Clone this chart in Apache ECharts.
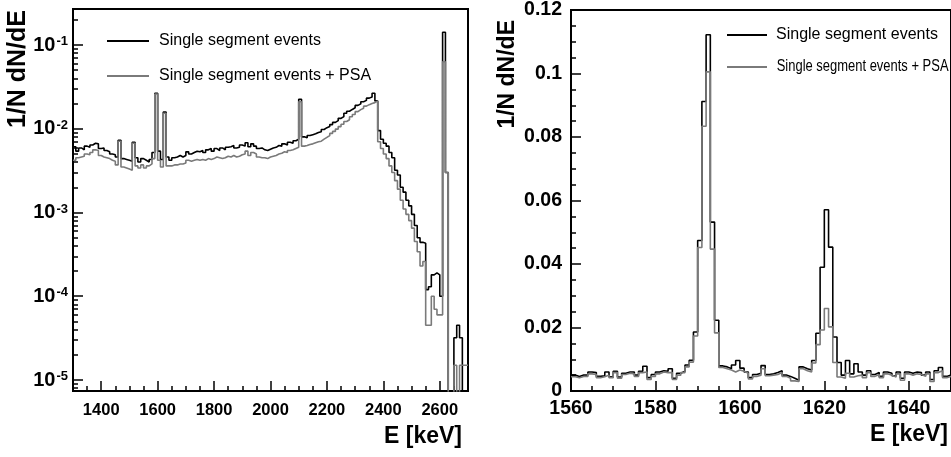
<!DOCTYPE html>
<html><head><meta charset="utf-8">
<script src="https://cdn.jsdelivr.net/npm/echarts@6/dist/echarts.min.js"></script>
<style>html,body{margin:0;padding:0;background:#fff}#c{width:951px;height:457px}</style>
</head><body><div id="c"></div>
<script>
// ---------------- DATA ----------------
const seriesNames = ['Single segment events', 'Single segment events + PSA'];

// Left panel: 10 keV bins from 1300 keV, values of 1/N dN/dE in units of 1e-3
const leftBinStart = 1300, leftBinWidth = 10, leftUnit = 1e-3;
const leftSingle = [
  6.1,5.4,5.9,5.6,6.2,6.0,6.4,6.7,6.6,5.8,
  5.9,5.5,5.3,5.0,4.9,4.6,7.3,4.4,4.3,4.2,
  4.1,6.9,4.5,4.0,4.4,4.2,4.0,4.3,5.2,26.5,
  5.4,4.3,15.8,4.6,4.2,4.5,4.6,4.8,4.6,4.8,
  5.3,5.0,5.2,5.4,5.3,5.5,5.2,5.6,5.8,5.4,
  5.8,5.5,5.9,5.6,6.0,6.1,6.3,5.9,6.0,6.4,
  6.2,6.8,6.1,6.6,6.2,5.8,5.9,5.6,5.5,5.7,
  5.9,6.0,6.3,6.2,6.6,6.4,6.9,6.7,7.2,7.5,
  22.5,8.0,7.8,8.3,8.5,8.7,9.0,9.2,9.8,10.3,
  10.6,11.2,11.9,12.5,13.3,14.0,15.3,16.2,17.0,17.8,
  19.0,19.8,21.0,21.8,23.2,24.0,26.5,21.5,9.5,7.5,
  6.7,6.2,5.2,4.5,3.2,2.8,2.0,1.75,1.4,1.2,
  0.95,0.70,0.50,0.44,0.43,0.12,0.13,0.18,0.19,0.18,
  0.10,142,3.0,0,0,0.032,0.045,0.032,0,0
];
const leftSinglePSA = [
  4.2,4.5,4.6,4.7,5.0,4.9,5.2,5.6,5.5,4.8,
  4.6,4.5,4.4,4.2,4.1,3.7,7.1,3.5,3.4,3.3,
  3.2,6.7,3.6,3.4,3.7,3.4,3.6,3.8,4.4,26.0,
  4.2,3.5,15.3,3.6,3.6,3.7,3.7,3.8,3.8,3.9,
  4.2,4.1,4.2,4.3,4.2,4.3,4.2,4.4,4.3,4.4,
  4.6,4.5,4.4,4.5,4.7,4.6,4.8,4.6,4.7,4.9,
  5.0,5.4,4.8,5.2,5.0,4.6,4.5,4.5,4.4,4.6,
  4.7,4.8,5.0,5.1,5.3,5.2,5.5,5.6,5.8,6.0,
  21.0,6.2,6.3,6.5,6.6,6.8,7.0,7.1,7.5,7.9,
  8.3,8.8,9.3,9.9,10.6,11.3,12.2,12.8,13.9,14.8,
  16.0,16.9,17.6,18.6,19.4,20.0,20.5,21.5,7.0,5.8,
  5.0,4.4,3.6,3.0,2.4,1.9,1.4,1.1,0.95,0.80,
  0.65,0.45,0.34,0.23,0.26,0.045,0.045,0.10,0.070,0.060,
  0.060,63,3.0,0,0,0.015,0,0.015,0.015,0.015
];

// Right panel: 1 keV bins from 1560 keV, values in units of 1e-3
const rightBinStart = 1560, rightBinWidth = 1, rightUnit = 1e-3;
const rightSingle = [
  5.0,4.6,5.0,5.0,6.0,5.8,4.6,4.8,6.0,4.5,
  6.2,4.4,5.6,6.0,6.0,5.0,6.2,7.8,4.2,5.2,
  6.0,6.4,6.2,7.0,4.0,5.6,6.2,8.2,9.7,18.6,
  47.4,91.2,112.2,53.2,22.3,7.9,7.6,7.0,8.2,9.6,
  7.2,6.0,4.2,5.2,5.6,8.0,5.2,5.4,5.8,6.4,
  5.0,4.6,4.0,3.4,7.6,7.0,6.6,9.6,18.2,39.0,
  57.1,45.3,17.0,9.0,5.0,9.6,5.4,8.6,6.0,5.0,
  6.4,5.2,5.8,4.6,6.0,5.6,4.8,6.0,4.0,6.0,
  5.6,6.0,5.8,5.0,6.0,3.6,6.4,7.4,4.6,5.0
];
const rightSinglePSA = [
  4.5,4.2,4.6,4.6,5.4,5.2,4.2,4.5,5.0,4.2,
  5.8,4.0,5.2,5.6,5.4,4.6,5.8,6.0,3.6,4.6,
  5.4,6.0,5.8,5.8,3.6,5.0,5.8,7.6,9.1,17.3,
  45.2,83.4,100.5,44.7,18.3,7.4,7.0,6.6,6.0,6.6,
  6.2,5.6,3.8,4.6,5.0,7.0,4.8,5.0,5.2,5.8,
  4.6,4.0,3.2,3.0,7.0,6.4,6.0,8.8,14.6,19.2,
  26.0,20.2,9.0,4.4,4.0,5.6,4.4,4.8,5.0,4.2,
  5.8,4.6,5.2,4.2,5.4,5.0,4.4,5.4,3.4,5.4,
  5.0,5.4,5.2,4.6,5.4,3.0,5.8,6.4,4.2,4.6
];

// Axis ranges and tick labels
const leftXRange = [1300, 2700];
const leftYRange = [7.39e-6, 0.269];
const leftXTicks = [1400, 1600, 1800, 2000, 2200, 2400, 2600];
const leftYTicks = [1e-5, 1e-4, 1e-3, 1e-2, 1e-1];
const rightXRange = [1560, 1650];
const rightYRange = [0, 0.12];
const rightXTicks = [1560, 1580, 1600, 1620, 1640];
const rightYTicks = [0, 0.02, 0.04, 0.06, 0.08, 0.1, 0.12];
const xTitle = 'E [keV]';
const yTitle = '1/N dN/dE';

// ---------------- BUILD ----------------
const FONT = '"Liberation Sans", Arial, Helvetica, sans-serif';
const BLACK = '#000000', GRAY = '#7a7a7a';

function histPoints(start, width, vals, unit, floor) {
  const pts = vals.map((v, i) => [start + i * width, v > 0 ? v * unit : floor]);
  const last = vals[vals.length - 1];
  pts.push([start + vals.length * width, last > 0 ? last * unit : floor]);
  return pts;
}
function rangeMinor(a, b, step, majorStep) {
  const out = [];
  for (let v = a; v <= b + 1e-9; v += step) {
    const r = Math.round(v * 1e6) / 1e6;
    if (Math.abs(r / majorStep - Math.round(r / majorStep)) > 1e-6) out.push(r);
  }
  return out;
}
const leftXMinor = rangeMinor(1300, 2700, 50, 200);
const leftYMinor = [];
for (let n = -6; n <= -1; n++) for (let m = 2; m <= 9; m++) {
  const v = m * Math.pow(10, n);
  if (v > leftYRange[0] && v < leftYRange[1]) leftYMinor.push(v);
}
const rightXMinor = rangeMinor(1560, 1650, 5, 20);
const rightYMinor = rangeMinor(0, 0.12, 0.005, 0.02);

const axisLine = { show: true, lineStyle: { color: BLACK, width: 2 } };
function majorX(grid, range, ticks, fs, margin) {
  return { gridIndex: grid, type: 'value', position: 'bottom', min: range[0], max: range[1], axisLine,
    axisTick: { show: true, inside: true, length: 10, customValues: ticks, lineStyle: { color: BLACK, width: 1.5 } },
    axisLabel: { customValues: ticks, fontSize: fs, fontWeight: 'bold', fontFamily: FONT, color: BLACK, margin,
      formatter: v => String(v) },
    splitLine: { show: false } };
}
function minorAxis(grid, type, pos, range, vals) {
  return { gridIndex: grid, type, position: pos, min: range[0], max: range[1], axisLine: { show: false },
    axisTick: { show: true, inside: true, length: 5, customValues: vals, lineStyle: { color: BLACK, width: 1.5 } },
    axisLabel: { show: false }, splitLine: { show: false } };
}

const option = {
  animation: false,
  backgroundColor: '#ffffff',
  grid: [
    { left: 73, top: 9, width: 395, height: 382, show: true, borderColor: BLACK, borderWidth: 2 },
    { left: 571, top: 9, width: 382, height: 382, show: true, borderColor: BLACK, borderWidth: 2 }
  ],
  xAxis: [
    majorX(0, leftXRange, leftXTicks, 16.5, 11),
    minorAxis(0, 'value', 'bottom', leftXRange, leftXMinor),
    majorX(1, rightXRange, rightXTicks, 19.5, 8),
    minorAxis(1, 'value', 'bottom', rightXRange, rightXMinor)
  ],
  yAxis: [
    { gridIndex: 0, type: 'log', logBase: 10, position: 'left', min: leftYRange[0], max: leftYRange[1], axisLine,
      axisTick: { show: true, inside: true, length: 10, customValues: leftYTicks, lineStyle: { color: BLACK, width: 1.5 } },
      axisLabel: { customValues: leftYTicks, margin: 5, color: BLACK,
        formatter: v => '{b|10}{s|' + Math.round(Math.log10(v)) + '}',
        rich: { b: { fontSize: 20, fontWeight: 'bold', fontFamily: FONT, color: BLACK },
                s: { fontSize: 13, fontWeight: 'bold', fontFamily: FONT, color: BLACK, verticalAlign: 'top', padding: [0, 0, 0, 1] } } },
      splitLine: { show: false } },
    minorAxis(0, 'log', 'left', leftYRange, leftYMinor),
    { gridIndex: 1, type: 'value', position: 'left', min: rightYRange[0], max: rightYRange[1], axisLine,
      axisTick: { show: true, inside: true, length: 10, customValues: rightYTicks, lineStyle: { color: BLACK, width: 1.5 } },
      axisLabel: { customValues: rightYTicks, fontSize: 19.5, fontWeight: 'bold', fontFamily: FONT, color: BLACK, margin: 9 },
      splitLine: { show: false } },
    minorAxis(1, 'value', 'left', rightYRange, rightYMinor)
  ],
  legend: [
    { left: 107, top: 32, orient: 'vertical', padding: 0, itemWidth: 42, itemHeight: 2, itemGap: 17,
      icon: 'rect', selectedMode: false, data: seriesNames,
      textStyle: { fontSize: 16, fontFamily: FONT, color: BLACK, lineHeight: 18, padding: [0, 0, 0, 5] } },
    { left: 727, top: 26, orient: 'vertical', padding: 0, itemWidth: 40, itemHeight: 2, itemGap: 16,
      icon: 'rect', selectedMode: false, data: [seriesNames[0]],
      textStyle: { fontSize: 16, fontFamily: FONT, color: BLACK, lineHeight: 18, padding: [0, 0, 0, 4] } }
  ],
  series: [
    { name: seriesNames[0], type: 'line', step: 'end', xAxisIndex: 0, yAxisIndex: 0, showSymbol: false, symbol: 'none',
      color: BLACK, lineStyle: { color: BLACK, width: 1.6 }, data: histPoints(leftBinStart, leftBinWidth, leftSingle, leftUnit, 1e-12) },
    { name: seriesNames[1], type: 'line', step: 'end', xAxisIndex: 0, yAxisIndex: 0, showSymbol: false, symbol: 'none',
      color: GRAY, lineStyle: { color: GRAY, width: 1.6 }, data: histPoints(leftBinStart, leftBinWidth, leftSinglePSA, leftUnit, 1e-12) },
    { name: seriesNames[0], type: 'line', step: 'end', xAxisIndex: 2, yAxisIndex: 2, showSymbol: false, symbol: 'none',
      color: BLACK, lineStyle: { color: BLACK, width: 1.6 }, data: histPoints(rightBinStart, rightBinWidth, rightSingle, rightUnit, 0) },
    { name: seriesNames[1], type: 'line', step: 'end', xAxisIndex: 2, yAxisIndex: 2, showSymbol: false, symbol: 'none',
      color: GRAY, lineStyle: { color: GRAY, width: 1.6 }, data: histPoints(rightBinStart, rightBinWidth, rightSinglePSA, rightUnit, 0) }
  ],
  graphic: [
    { type: 'text', x: 18.5, y: 10, rotation: Math.PI / 2,
      style: { text: yTitle, fontSize: 25, fontWeight: 'bold', fontFamily: FONT, fill: BLACK, align: 'right', verticalAlign: 'middle' } },
    { type: 'text', x: 507.5, y: 20, rotation: Math.PI / 2,
      style: { text: yTitle, fontSize: 23, fontWeight: 'bold', fontFamily: FONT, fill: BLACK, align: 'right', verticalAlign: 'middle' } },
    { type: 'text', x: 462, y: 437,
      style: { text: xTitle, fontSize: 23, fontWeight: 'bold', fontFamily: FONT, fill: BLACK, align: 'right', verticalAlign: 'middle' } },
    { type: 'text', x: 948, y: 435,
      style: { text: xTitle, fontSize: 23, fontWeight: 'bold', fontFamily: FONT, fill: BLACK, align: 'right', verticalAlign: 'middle' } },
    // right-panel legend, second entry (condensed text as in the original)
    { type: 'line', shape: { x1: 727, y1: 67, x2: 767, y2: 67 }, style: { stroke: GRAY, lineWidth: 2 } },
    { type: 'text', x: 776.7, y: 67, scaleX: 0.81, scaleY: 1,
      style: { text: seriesNames[1], fontSize: 16, fontFamily: FONT, fill: BLACK, align: 'left', verticalAlign: 'middle' } }
  ]
};
const chart = echarts.init(document.getElementById('c'), null, { renderer: 'canvas' });
chart.setOption(option);
</script>
</body></html>
